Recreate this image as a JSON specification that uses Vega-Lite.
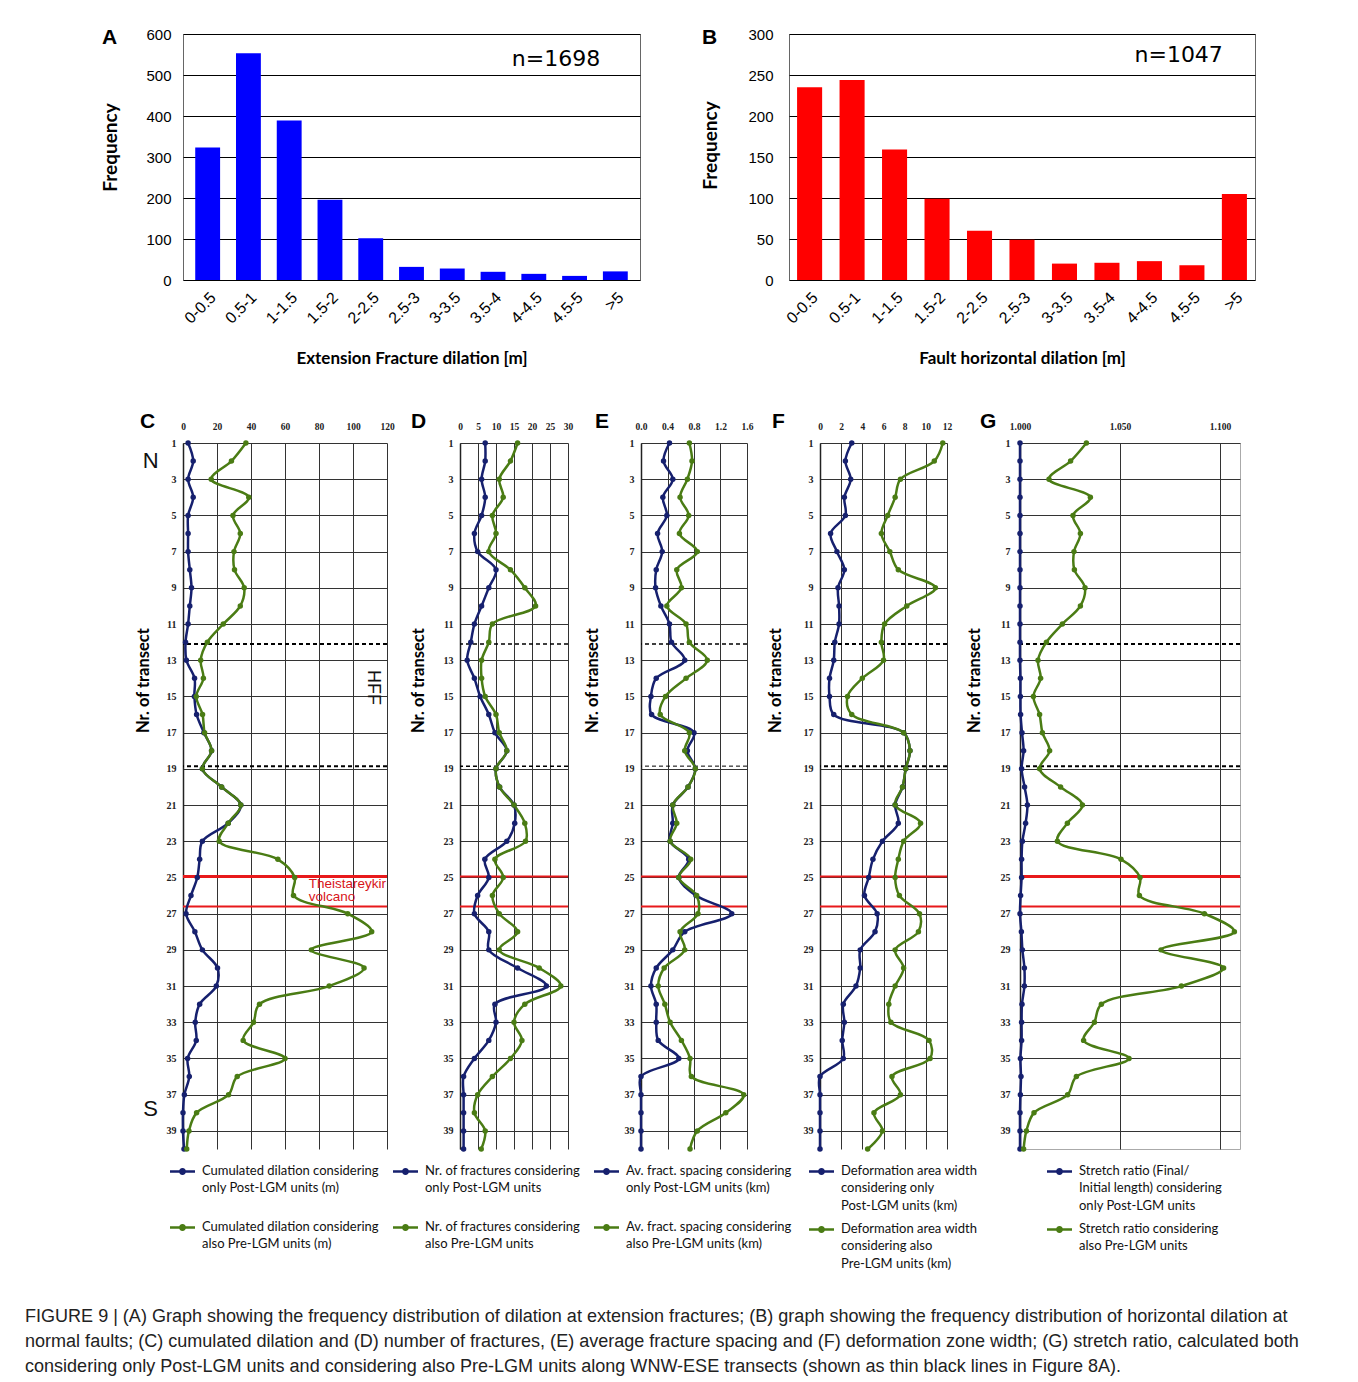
{
"$schema": "https://vega.github.io/schema/vega-lite/v6.json",
"padding": {"left": 25, "top": 26, "right": 5, "bottom": 5},
"background": "#ffffff",
"title": {"text": ["FIGURE 9 | (A) Graph showing the frequency distribution of dilation at extension fractures; (B) graph showing the frequency distribution of horizontal dilation at", "normal faults; (C) cumulated dilation and (D) number of fractures, (E) average fracture spacing and (F) deformation zone width; (G) stretch ratio, calculated both", "considering only Post-LGM units and considering also Pre-LGM units along WNW-ESE transects (shown as thin black lines in Figure 8A)."], "orient": "bottom", "anchor": "start", "frame": "group", "dx": -158, "offset": 37, "fontSize": 18.05, "fontWeight": "normal", "font": "Liberation Sans", "color": "#222", "lineHeight": 25, "baseline": "top"},
"datasets": {
"bars": [
{"chart":"A","bin":"0-0.5","n":323},{"chart":"A","bin":"0.5-1","n":553},{"chart":"A","bin":"1-1.5","n":389},{"chart":"A","bin":"1.5-2","n":196},{"chart":"A","bin":"2-2.5","n":102},{"chart":"A","bin":"2.5-3","n":32},{"chart":"A","bin":"3-3.5","n":28},{"chart":"A","bin":"3.5-4","n":20},{"chart":"A","bin":"4-4.5","n":15},{"chart":"A","bin":"4.5-5","n":10},{"chart":"A","bin":">5","n":21},
{"chart":"B","bin":"0-0.5","n":235},{"chart":"B","bin":"0.5-1","n":244},{"chart":"B","bin":"1-1.5","n":159},{"chart":"B","bin":"1.5-2","n":99},{"chart":"B","bin":"2-2.5","n":60},{"chart":"B","bin":"2.5-3","n":49},{"chart":"B","bin":"3-3.5","n":20},{"chart":"B","bin":"3.5-4","n":21},{"chart":"B","bin":"4-4.5","n":23},{"chart":"B","bin":"4.5-5","n":18},{"chart":"B","bin":">5","n":105}
],
"profiles": [
{"p":"C","t":1,"post":3,"pre":37},{"p":"C","t":2,"post":6,"pre":28.5},{"p":"C","t":3,"post":3,"pre":16.6},{"p":"C","t":4,"post":6,"pre":38.7},{"p":"C","t":5,"post":3,"pre":29.4},{"p":"C","t":6,"post":3,"pre":33.7},{"p":"C","t":7,"post":3,"pre":30},{"p":"C","t":8,"post":4,"pre":30.3},{"p":"C","t":9,"post":5,"pre":36},{"p":"C","t":10,"post":4,"pre":33.7},
{"p":"C","t":11,"post":3,"pre":23.7},{"p":"C","t":12,"post":1.5,"pre":14.3},{"p":"C","t":13,"post":2,"pre":10.4},{"p":"C","t":14,"post":6.8,"pre":12},{"p":"C","t":15,"post":6.7,"pre":7.8},{"p":"C","t":16,"post":8,"pre":11.5},{"p":"C","t":17,"post":12.3,"pre":12.7},{"p":"C","t":18,"post":16.8,"pre":16.8},{"p":"C","t":19,"post":11.4,"pre":11.4},{"p":"C","t":20,"post":22.7,"pre":22.7},
{"p":"C","t":21,"post":34,"pre":34},{"p":"C","t":22,"post":26.6,"pre":26.6},{"p":"C","t":23,"post":11.4,"pre":21.3},{"p":"C","t":24,"post":9.8,"pre":55.8},{"p":"C","t":25,"post":8.4,"pre":65.7},{"p":"C","t":26,"post":4.7,"pre":65},{"p":"C","t":27,"post":1.8,"pre":96.9},{"p":"C","t":28,"post":7,"pre":111},{"p":"C","t":29,"post":11.4,"pre":75.5},{"p":"C","t":30,"post":20.3,"pre":106.5},
{"p":"C","t":31,"post":19.6,"pre":86},{"p":"C","t":32,"post":9.8,"pre":45},{"p":"C","t":33,"post":7.2,"pre":41.5},{"p":"C","t":34,"post":7.8,"pre":35.4},{"p":"C","t":35,"post":2.7,"pre":60},{"p":"C","t":36,"post":3.7,"pre":31.9},{"p":"C","t":37,"post":0.8,"pre":26.8},{"p":"C","t":38,"post":0,"pre":8},{"p":"C","t":39,"post":0,"pre":3.5},{"p":"C","t":40,"post":0.6,"pre":2.2},
{"p":"D","t":1,"post":7,"pre":16},{"p":"D","t":2,"post":7,"pre":14},{"p":"D","t":3,"post":6,"pre":10.9},{"p":"D","t":4,"post":7,"pre":12},{"p":"D","t":5,"post":6,"pre":9},{"p":"D","t":6,"post":4,"pre":10},{"p":"D","t":7,"post":4.9,"pre":8},{"p":"D","t":8,"post":10,"pre":14},{"p":"D","t":9,"post":8,"pre":18},{"p":"D","t":10,"post":6,"pre":21},
{"p":"D","t":11,"post":4,"pre":9},{"p":"D","t":12,"post":3,"pre":8},{"p":"D","t":13,"post":2,"pre":6},{"p":"D","t":14,"post":4,"pre":6},{"p":"D","t":15,"post":5.6,"pre":7},{"p":"D","t":16,"post":8,"pre":10},{"p":"D","t":17,"post":9.7,"pre":10.9},{"p":"D","t":18,"post":13,"pre":13},{"p":"D","t":19,"post":10,"pre":10},{"p":"D","t":20,"post":11,"pre":11},
{"p":"D","t":21,"post":15,"pre":15},{"p":"D","t":22,"post":15.2,"pre":18},{"p":"D","t":23,"post":13,"pre":18.2},{"p":"D","t":24,"post":6.9,"pre":9.7},{"p":"D","t":25,"post":8,"pre":12},{"p":"D","t":26,"post":4.9,"pre":9},{"p":"D","t":27,"post":4,"pre":10.9},{"p":"D","t":28,"post":8,"pre":16},{"p":"D","t":29,"post":8,"pre":10.9},{"p":"D","t":30,"post":16,"pre":22},
{"p":"D","t":31,"post":24,"pre":28},{"p":"D","t":32,"post":9.7,"pre":18},{"p":"D","t":33,"post":10,"pre":15},{"p":"D","t":34,"post":8,"pre":17.2},{"p":"D","t":35,"post":4,"pre":14},{"p":"D","t":36,"post":1,"pre":9},{"p":"D","t":37,"post":1,"pre":4.9},{"p":"D","t":38,"post":1,"pre":4},{"p":"D","t":39,"post":1,"pre":7},{"p":"D","t":40,"post":1,"pre":5.9},
{"p":"E","t":1,"post":0.43,"pre":0.73},{"p":"E","t":2,"post":0.34,"pre":0.77},{"p":"E","t":3,"post":0.48,"pre":0.7},{"p":"E","t":4,"post":0.33,"pre":0.59},{"p":"E","t":5,"post":0.39,"pre":0.72},{"p":"E","t":6,"post":0.25,"pre":0.58},{"p":"E","t":7,"post":0.32,"pre":0.85},{"p":"E","t":8,"post":0.23,"pre":0.54},{"p":"E","t":9,"post":0.22,"pre":0.61},{"p":"E","t":10,"post":0.3,"pre":0.39},
{"p":"E","t":11,"post":0.43,"pre":0.68},{"p":"E","t":12,"post":0.46,"pre":0.73},{"p":"E","t":13,"post":0.66,"pre":1.0},{"p":"E","t":14,"post":0.23,"pre":0.68},{"p":"E","t":15,"post":0.15,"pre":0.37},{"p":"E","t":16,"post":0.16,"pre":0.29},{"p":"E","t":17,"post":0.8,"pre":0.73},{"p":"E","t":18,"post":0.7,"pre":0.66},{"p":"E","t":19,"post":0.82,"pre":0.82},{"p":"E","t":20,"post":0.71,"pre":0.71},
{"p":"E","t":21,"post":0.48,"pre":0.48},{"p":"E","t":22,"post":0.48,"pre":0.54},{"p":"E","t":23,"post":0.44,"pre":0.44},{"p":"E","t":24,"post":0.72,"pre":0.75},{"p":"E","t":25,"post":0.57,"pre":0.57},{"p":"E","t":26,"post":0.83,"pre":0.84},{"p":"E","t":27,"post":1.37,"pre":0.86},{"p":"E","t":28,"post":0.66,"pre":0.59},{"p":"E","t":29,"post":0.48,"pre":0.66},{"p":"E","t":30,"post":0.23,"pre":0.35},
{"p":"E","t":31,"post":0.15,"pre":0.26},{"p":"E","t":32,"post":0.23,"pre":0.36},{"p":"E","t":33,"post":0.23,"pre":0.44},{"p":"E","t":34,"post":0.26,"pre":0.61},{"p":"E","t":35,"post":0.57,"pre":0.74},{"p":"E","t":36,"post":0,"pre":0.76},{"p":"E","t":37,"post":0,"pre":1.55},{"p":"E","t":38,"post":0,"pre":1.28},{"p":"E","t":39,"post":0,"pre":0.85},{"p":"E","t":40,"post":0,"pre":0.74},
{"p":"F","t":1,"post":3.0,"pre":11.6},{"p":"F","t":2,"post":2.4,"pre":10.8},{"p":"F","t":3,"post":2.9,"pre":7.6},{"p":"F","t":4,"post":2.3,"pre":7.1},{"p":"F","t":5,"post":2.4,"pre":6.4},{"p":"F","t":6,"post":1.0,"pre":5.8},{"p":"F","t":7,"post":1.6,"pre":6.6},{"p":"F","t":8,"post":2.3,"pre":7.4},{"p":"F","t":9,"post":1.7,"pre":10.9},{"p":"F","t":10,"post":1.8,"pre":8.2},
{"p":"F","t":11,"post":1.8,"pre":6.1},{"p":"F","t":12,"post":1.4,"pre":5.8},{"p":"F","t":13,"post":1.3,"pre":6.0},{"p":"F","t":14,"post":0.9,"pre":4.0},{"p":"F","t":15,"post":0.9,"pre":2.6},{"p":"F","t":16,"post":1.3,"pre":3.0},{"p":"F","t":17,"post":7.9,"pre":7.9},{"p":"F","t":18,"post":8.5,"pre":8.5},{"p":"F","t":19,"post":8.1,"pre":8.1},{"p":"F","t":20,"post":7.8,"pre":7.8},
{"p":"F","t":21,"post":7.1,"pre":7.1},{"p":"F","t":22,"post":7.4,"pre":9.5},{"p":"F","t":23,"post":5.9,"pre":7.9},{"p":"F","t":24,"post":5.0,"pre":7.4},{"p":"F","t":25,"post":4.6,"pre":7.1},{"p":"F","t":26,"post":4.2,"pre":7.5},{"p":"F","t":27,"post":5.4,"pre":9.4},{"p":"F","t":28,"post":5.2,"pre":9.3},{"p":"F","t":29,"post":3.8,"pre":7.1},{"p":"F","t":30,"post":3.8,"pre":7.9},
{"p":"F","t":31,"post":3.4,"pre":7.1},{"p":"F","t":32,"post":2.2,"pre":6.5},{"p":"F","t":33,"post":2.3,"pre":6.7},{"p":"F","t":34,"post":2.1,"pre":10.3},{"p":"F","t":35,"post":2.2,"pre":10.4},{"p":"F","t":36,"post":0,"pre":6.8},{"p":"F","t":37,"post":0,"pre":7.6},{"p":"F","t":38,"post":0,"pre":5.1},{"p":"F","t":39,"post":0,"pre":5.9},{"p":"F","t":40,"post":0,"pre":4.5},
{"p":"G","t":1,"post":1.0,"pre":1.0332},{"p":"G","t":2,"post":1.0,"pre":1.0253},{"p":"G","t":3,"post":1.0,"pre":1.0145},{"p":"G","t":4,"post":1.0,"pre":1.0352},{"p":"G","t":5,"post":1.0,"pre":1.0265},{"p":"G","t":6,"post":1.0,"pre":1.0302},{"p":"G","t":7,"post":1.0,"pre":1.027},{"p":"G","t":8,"post":1.0,"pre":1.0272},{"p":"G","t":9,"post":1.0,"pre":1.0325},{"p":"G","t":10,"post":1.0,"pre":1.0302},
{"p":"G","t":11,"post":1.0,"pre":1.0212},{"p":"G","t":12,"post":1.0,"pre":1.0132},{"p":"G","t":13,"post":1.0,"pre":1.009},{"p":"G","t":14,"post":1.0002,"pre":1.0103},{"p":"G","t":15,"post":1.0002,"pre":1.0067},{"p":"G","t":16,"post":1.0003,"pre":1.0098},{"p":"G","t":17,"post":1.001,"pre":1.0112},{"p":"G","t":18,"post":1.0018,"pre":1.0148},{"p":"G","t":19,"post":1.0008,"pre":1.0098},{"p":"G","t":20,"post":1.0023,"pre":1.0203},
{"p":"G","t":21,"post":1.0037,"pre":1.0312},{"p":"G","t":22,"post":1.0028,"pre":1.0237},{"p":"G","t":23,"post":1.0012,"pre":1.0187},{"p":"G","t":24,"post":1.0008,"pre":1.0505},{"p":"G","t":25,"post":1.0008,"pre":1.06},{"p":"G","t":26,"post":1.0003,"pre":1.0597},{"p":"G","t":27,"post":1.0,"pre":1.0922},{"p":"G","t":28,"post":1.0007,"pre":1.1072},{"p":"G","t":29,"post":1.0012,"pre":1.0705},{"p":"G","t":30,"post":1.0022,"pre":1.1018},
{"p":"G","t":31,"post":1.0022,"pre":1.0807},{"p":"G","t":32,"post":1.001,"pre":1.0407},{"p":"G","t":33,"post":1.0008,"pre":1.0372},{"p":"G","t":34,"post":1.0008,"pre":1.0318},{"p":"G","t":35,"post":1.0002,"pre":1.0545},{"p":"G","t":36,"post":1.0005,"pre":1.0282},{"p":"G","t":37,"post":1.0002,"pre":1.0238},{"p":"G","t":38,"post":1.0,"pre":1.007},{"p":"G","t":39,"post":1.0,"pre":1.0032},{"p":"G","t":40,"post":1.0,"pre":1.0018}
]
},
"vconcat": [
{"hconcat": [
 {"width": 457, "height": 246,
  "view": {"stroke": "#666", "strokeWidth": 1},
  "title": {"text": "A", "anchor": "start", "frame": "group", "dx": -81, "dy": 25, "fontSize": 21, "fontWeight": "bold", "font": "Liberation Sans", "color": "#000"},
  "layer": [
   {"data": {"name": "bars"}, "transform": [{"filter": "datum.chart == 'A'"}],
    "mark": {"type": "bar", "color": "#0000ff"},
    "encoding": {
     "x": {"field": "bin", "type": "nominal", "scale": {"domain": ["0-0.5","0.5-1","1-1.5","1.5-2","2-2.5","2.5-3","3-3.5","3.5-4","4-4.5","4.5-5",">5"], "paddingInner": 0.39, "paddingOuter": 0.3}, "axis": {"title": "Extension Fracture dilation [m]", "labelAngle": -45, "labelFont": "Liberation Sans", "labelFontSize": 16, "labelColor": "#000", "labelPadding": 9, "ticks": false, "domain": false, "titleFont": "Lato", "titleFontSize": 17, "titleFontWeight": "bold", "titlePadding": 24, "titleColor": "#000"}},
     "y": {"field": "n", "type": "quantitative", "scale": {"domain": [0, 600], "nice": false}, "axis": {"values": [0,100,200,300,400,500,600], "title": "Frequency", "titleX": -73, "titleY": 113, "titleAngle": -90, "titleAlign": "center", "titleBaseline": "middle", "titleFont": "Lato", "titleFontSize": 19, "titleFontWeight": "bold", "titleColor": "#000", "labelFont": "Liberation Sans", "labelFontSize": 15, "labelColor": "#000", "labelPadding": 12, "ticks": false, "domain": false, "grid": true, "gridColor": "#000", "gridWidth": 1}}
    }},
   {"data": {"values": [{}]}, "mark": {"type": "text", "text": "n=1698", "font": "DejaVu Sans", "fontSize": 22, "align": "right", "baseline": "middle", "color": "#000", "dx": -4},
    "encoding": {"x": {"datum": ">5", "type": "nominal", "bandPosition": 0.05}, "y": {"datum": 540, "type": "quantitative"}}}
  ]},
 {"width": 466, "height": 246,
  "view": {"stroke": "#666", "strokeWidth": 1},
  "title": {"text": "B", "anchor": "start", "frame": "group", "dx": -87, "dy": 25, "fontSize": 21, "fontWeight": "bold", "font": "Liberation Sans", "color": "#000"},
  "layer": [
   {"data": {"name": "bars"}, "transform": [{"filter": "datum.chart == 'B'"}],
    "mark": {"type": "bar", "color": "#ff0000"},
    "encoding": {
     "x": {"field": "bin", "type": "nominal", "scale": {"domain": ["0-0.5","0.5-1","1-1.5","1.5-2","2-2.5","2.5-3","3-3.5","3.5-4","4-4.5","4.5-5",">5"], "paddingInner": 0.41, "paddingOuter": 0.19}, "axis": {"title": "Fault horizontal dilation [m]", "labelAngle": -45, "labelFont": "Liberation Sans", "labelFontSize": 16, "labelColor": "#000", "labelPadding": 9, "ticks": false, "domain": false, "titleFont": "Lato", "titleFontSize": 17, "titleFontWeight": "bold", "titlePadding": 24, "titleColor": "#000"}},
     "y": {"field": "n", "type": "quantitative", "scale": {"domain": [0, 300], "nice": false}, "axis": {"values": [0,50,100,150,200,250,300], "title": "Frequency", "titleX": -79, "titleY": 111, "titleAngle": -90, "titleAlign": "center", "titleBaseline": "middle", "titleFont": "Lato", "titleFontSize": 19, "titleFontWeight": "bold", "titleColor": "#000", "labelFont": "Liberation Sans", "labelFontSize": 15, "labelColor": "#000", "labelPadding": 16, "ticks": false, "domain": false, "grid": true, "gridColor": "#000", "gridWidth": 1}}
    }},
   {"data": {"values": [{}]}, "mark": {"type": "text", "text": "n=1047", "font": "DejaVu Sans", "fontSize": 22, "align": "right", "baseline": "middle", "color": "#000", "dx": -4},
    "encoding": {"x": {"datum": ">5", "type": "nominal", "bandPosition": 0.2}, "y": {"datum": 275, "type": "quantitative"}}}
  ]}
 ], "spacing": 149, "bounds": "flush"},
{"hconcat": [
 {"width": 204, "height": 706,
  "title": {"text": "C", "anchor": "start", "frame": "group", "dx": -43, "dy": 15, "fontSize": 21, "fontWeight": "bold", "font": "Liberation Sans", "color": "#000"},
  "layer": [
   {"data": {"values": [{}]}, "mark": {"type": "rule", "color": "#000", "strokeWidth": 2, "strokeDash": [4, 3]}, "encoding": {"y": {"datum": 12.1, "type": "quantitative"}}},
   {"data": {"values": [{}]}, "mark": {"type": "rule", "color": "#000", "strokeWidth": 2, "strokeDash": [4, 3]}, "encoding": {"y": {"datum": 18.85, "type": "quantitative"}}},
   {"data": {"values": [{}]}, "mark": {"type": "rule", "color": "#e8191b", "strokeWidth": 3}, "encoding": {"y": {"datum": 24.95, "type": "quantitative"}}},
   {"data": {"values": [{}]}, "mark": {"type": "rule", "color": "#e8191b", "strokeWidth": 2}, "encoding": {"y": {"datum": 26.6, "type": "quantitative"}}},
   {"data": {"name": "profiles"}, "transform": [{"filter": "datum.p == 'C'"}, {"fold": ["post", "pre"], "as": ["s", "v"]}],
    "encoding": {
     "y": {"field": "t", "type": "quantitative", "scale": {"domain": [1, 40], "reverse": true, "nice": false, "zero": false}, "axis": {"values": [1,3,5,7,9,11,13,15,17,19,21,23,25,27,29,31,33,35,37,39], "tickCount": 60, "format": "d", "labelOverlap": false, "title": "Nr. of transect", "titleX": -40, "titleY": 237, "titleAngle": -90, "titleAlign": "center", "titleBaseline": "middle", "titleFont": "Lato", "titleFontSize": 16.5, "titleFontWeight": "bold", "titleColor": "#000", "labelFont": "Liberation Serif", "labelFontSize": 10, "labelFontWeight": "bold", "labelColor": "#222", "labelPadding": 7, "ticks": false, "grid": true, "gridColor": "#333", "gridWidth": 1, "domain": true, "domainColor": "#222", "domainWidth": 1.5}},
     "x": {"field": "v", "type": "quantitative", "scale": {"domain": [0, 120], "nice": false, "zero": false}, "axis": {"orient": "top", "values": [0,20,40,60,80,100,120], "tickCount": 60, "format": "d", "title": null, "labelFont": "Liberation Serif", "labelFontSize": 9.5, "labelFontWeight": "bold", "labelColor": "#222", "ticks": false, "labelPadding": 12, "domain": false, "grid": true, "gridColor": "#333", "gridWidth": 1, "labelFlush": false, "labelOverlap": false}},
     "order": {"field": "t", "type": "quantitative"},
     "color": {"field": "s", "type": "nominal", "scale": {"domain": ["post", "pre"], "range": ["#16206e", "#4a7c14"]}, "legend": {"orient": "none", "legendX": -13, "legendY": 716, "title": null, "direction": "vertical", "symbolType": "M-1,-0.1H-0.25V0.1H-1Z M0.25,-0.1H1V0.1H0.25Z M0.28,0A0.28,0.28,0,1,1,-0.28,0A0.28,0.28,0,1,1,0.28,0Z", "symbolSize": 625, "symbolStrokeWidth": 0, "symbolOpacity": 1, "labelFont": "Lato", "labelFontSize": 13, "labelColor": "#111", "labelBaseline": "top", "labelLimit": 400, "labelOffset": 7, "rowPadding": 20, "padding": 0, "labelExpr": "datum.value == 'post' ? ['Cumulated dilation considering', 'only Post-LGM units (m)'] : ['Cumulated dilation considering', 'also Pre-LGM units (m)']", "encode": {"labels": {"update": {"lineHeight": {"value": 17.5}, "dy": {"value": -7}}}}}}
    },
    "layer": [
     {"mark": {"type": "line", "interpolate": "catmull-rom", "strokeWidth": 2.5}},
     {"mark": {"type": "circle", "size": 30, "opacity": 1}}
    ]},
   {"data": {"values": [{}]}, "mark": {"type": "text", "text": "N", "fontSize": 22, "font": "Liberation Sans", "color": "#111"}, "encoding": {"x": {"datum": -19, "type": "quantitative", "axis": {"orient": "top"}}, "y": {"datum": 2.0, "type": "quantitative"}}},
   {"data": {"values": [{}]}, "mark": {"type": "text", "text": "S", "fontSize": 22, "font": "Liberation Sans", "color": "#111"}, "encoding": {"x": {"datum": -19, "type": "quantitative", "axis": {"orient": "top"}}, "y": {"datum": 37.8, "type": "quantitative"}}},
   {"data": {"values": [{}]}, "mark": {"type": "text", "text": "HFF", "fontSize": 18, "font": "Liberation Sans", "color": "#111", "angle": 90}, "encoding": {"x": {"datum": 112, "type": "quantitative", "axis": {"orient": "top"}}, "y": {"datum": 14.5, "type": "quantitative"}}},
   {"data": {"values": [{}]}, "mark": {"type": "text", "text": ["Theistareykir", "volcano"], "lineHeight": 13, "fontSize": 13.5, "font": "Liberation Sans", "color": "#d8141a", "align": "left", "baseline": "top", "clip": true}, "encoding": {"x": {"datum": 74, "type": "quantitative", "axis": {"orient": "top"}}, "y": {"datum": 24.98, "type": "quantitative"}}}
  ]},
 {"width": 108, "height": 706,
  "title": {"text": "D", "anchor": "start", "frame": "group", "dx": -49, "dy": 15, "fontSize": 21, "fontWeight": "bold", "font": "Liberation Sans", "color": "#000"},
  "layer": [
   {"data": {"values": [{}]}, "mark": {"type": "rule", "color": "#000", "strokeWidth": 1.5, "strokeDash": [4, 3]}, "encoding": {"y": {"datum": 12.1, "type": "quantitative"}}},
   {"data": {"values": [{}]}, "mark": {"type": "rule", "color": "#000", "strokeWidth": 1.5, "strokeDash": [4, 3]}, "encoding": {"y": {"datum": 18.85, "type": "quantitative"}}},
   {"data": {"values": [{}]}, "mark": {"type": "rule", "color": "#e8191b", "strokeWidth": 2}, "encoding": {"y": {"datum": 24.95, "type": "quantitative"}}},
   {"data": {"values": [{}]}, "mark": {"type": "rule", "color": "#e8191b", "strokeWidth": 2}, "encoding": {"y": {"datum": 26.6, "type": "quantitative"}}},
   {"data": {"name": "profiles"}, "transform": [{"filter": "datum.p == 'D'"}, {"fold": ["post", "pre"], "as": ["s", "v"]}],
    "encoding": {
     "y": {"field": "t", "type": "quantitative", "scale": {"domain": [1, 40], "reverse": true, "nice": false, "zero": false}, "axis": {"values": [1,3,5,7,9,11,13,15,17,19,21,23,25,27,29,31,33,35,37,39], "tickCount": 60, "format": "d", "labelOverlap": false, "title": "Nr. of transect", "titleX": -42, "titleY": 237, "titleAngle": -90, "titleAlign": "center", "titleBaseline": "middle", "titleFont": "Lato", "titleFontSize": 16.5, "titleFontWeight": "bold", "titleColor": "#000", "labelFont": "Liberation Serif", "labelFontSize": 10, "labelFontWeight": "bold", "labelColor": "#222", "labelPadding": 7, "ticks": false, "grid": true, "gridColor": "#333", "gridWidth": 1, "domain": true, "domainColor": "#222", "domainWidth": 1.5}},
     "x": {"field": "v", "type": "quantitative", "scale": {"domain": [0, 30], "nice": false, "zero": false}, "axis": {"orient": "top", "values": [0,5,10,15,20,25,30], "tickCount": 60, "format": "d", "title": null, "labelFont": "Liberation Serif", "labelFontSize": 9.5, "labelFontWeight": "bold", "labelColor": "#222", "ticks": false, "labelPadding": 12, "domain": false, "grid": true, "gridColor": "#333", "gridWidth": 1, "labelFlush": false, "labelOverlap": false}},
     "order": {"field": "t", "type": "quantitative"},
     "color": {"field": "s", "type": "nominal", "scale": {"domain": ["post", "pre"], "range": ["#16206e", "#4a7c14"]}, "legend": {"orient": "none", "legendX": -67, "legendY": 716, "title": null, "direction": "vertical", "symbolType": "M-1,-0.1H-0.25V0.1H-1Z M0.25,-0.1H1V0.1H0.25Z M0.28,0A0.28,0.28,0,1,1,-0.28,0A0.28,0.28,0,1,1,0.28,0Z", "symbolSize": 625, "symbolStrokeWidth": 0, "symbolOpacity": 1, "labelFont": "Lato", "labelFontSize": 13, "labelColor": "#111", "labelBaseline": "top", "labelLimit": 400, "labelOffset": 7, "rowPadding": 20, "padding": 0, "labelExpr": "datum.value == 'post' ? ['Nr. of fractures considering', 'only Post-LGM units'] : ['Nr. of fractures considering', 'also Pre-LGM units']", "encode": {"labels": {"update": {"lineHeight": {"value": 17.5}, "dy": {"value": -7}}}}}}
    },
    "layer": [
     {"mark": {"type": "line", "interpolate": "catmull-rom", "strokeWidth": 2.5}},
     {"mark": {"type": "circle", "size": 30, "opacity": 1}}
    ]}
  ]},
 {"width": 106, "height": 706,
  "title": {"text": "E", "anchor": "start", "frame": "group", "dx": -46, "dy": 15, "fontSize": 21, "fontWeight": "bold", "font": "Liberation Sans", "color": "#000"},
  "layer": [
   {"data": {"values": [{}]}, "mark": {"type": "rule", "color": "#000", "strokeWidth": 1.5, "strokeDash": [4, 3]}, "encoding": {"y": {"datum": 12.1, "type": "quantitative"}}},
   {"data": {"values": [{}]}, "mark": {"type": "rule", "color": "#000", "strokeWidth": 1, "strokeDash": [4, 3]}, "encoding": {"y": {"datum": 18.85, "type": "quantitative"}}},
   {"data": {"values": [{}]}, "mark": {"type": "rule", "color": "#e8191b", "strokeWidth": 2}, "encoding": {"y": {"datum": 24.95, "type": "quantitative"}}},
   {"data": {"values": [{}]}, "mark": {"type": "rule", "color": "#e8191b", "strokeWidth": 2}, "encoding": {"y": {"datum": 26.6, "type": "quantitative"}}},
   {"data": {"name": "profiles"}, "transform": [{"filter": "datum.p == 'E'"}, {"fold": ["post", "pre"], "as": ["s", "v"]}],
    "encoding": {
     "y": {"field": "t", "type": "quantitative", "scale": {"domain": [1, 40], "reverse": true, "nice": false, "zero": false}, "axis": {"values": [1,3,5,7,9,11,13,15,17,19,21,23,25,27,29,31,33,35,37,39], "tickCount": 60, "format": "d", "labelOverlap": false, "title": "Nr. of transect", "titleX": -49, "titleY": 237, "titleAngle": -90, "titleAlign": "center", "titleBaseline": "middle", "titleFont": "Lato", "titleFontSize": 16.5, "titleFontWeight": "bold", "titleColor": "#000", "labelFont": "Liberation Serif", "labelFontSize": 10, "labelFontWeight": "bold", "labelColor": "#222", "labelPadding": 7, "ticks": false, "grid": true, "gridColor": "#333", "gridWidth": 1, "domain": true, "domainColor": "#222", "domainWidth": 1.5}},
     "x": {"field": "v", "type": "quantitative", "scale": {"domain": [0, 1.6], "nice": false, "zero": false}, "axis": {"orient": "top", "values": [0,0.4,0.8,1.2,1.6], "tickCount": 60, "format": ".1f", "title": null, "labelFont": "Liberation Serif", "labelFontSize": 9.5, "labelFontWeight": "bold", "labelColor": "#222", "ticks": false, "labelPadding": 12, "domain": false, "grid": true, "gridColor": "#333", "gridWidth": 1, "labelFlush": false, "labelOverlap": false}},
     "order": {"field": "t", "type": "quantitative"},
     "color": {"field": "s", "type": "nominal", "scale": {"domain": ["post", "pre"], "range": ["#16206e", "#4a7c14"]}, "legend": {"orient": "none", "legendX": -47, "legendY": 716, "title": null, "direction": "vertical", "symbolType": "M-1,-0.1H-0.25V0.1H-1Z M0.25,-0.1H1V0.1H0.25Z M0.28,0A0.28,0.28,0,1,1,-0.28,0A0.28,0.28,0,1,1,0.28,0Z", "symbolSize": 625, "symbolStrokeWidth": 0, "symbolOpacity": 1, "labelFont": "Lato", "labelFontSize": 13, "labelColor": "#111", "labelBaseline": "top", "labelLimit": 400, "labelOffset": 7, "rowPadding": 20, "padding": 0, "labelExpr": "datum.value == 'post' ? ['Av. fract. spacing considering', 'only Post-LGM units (km)'] : ['Av. fract. spacing considering', 'also Pre-LGM units (km)']", "encode": {"labels": {"update": {"lineHeight": {"value": 17.5}, "dy": {"value": -7}}}}}}
    },
    "layer": [
     {"mark": {"type": "line", "interpolate": "catmull-rom", "strokeWidth": 2.5}},
     {"mark": {"type": "circle", "size": 30, "opacity": 1}}
    ]}
  ]},
 {"width": 127, "height": 706,
  "title": {"text": "F", "anchor": "start", "frame": "group", "dx": -48, "dy": 15, "fontSize": 21, "fontWeight": "bold", "font": "Liberation Sans", "color": "#000"},
  "layer": [
   {"data": {"values": [{}]}, "mark": {"type": "rule", "color": "#000", "strokeWidth": 2, "strokeDash": [4, 3]}, "encoding": {"y": {"datum": 12.1, "type": "quantitative"}}},
   {"data": {"values": [{}]}, "mark": {"type": "rule", "color": "#000", "strokeWidth": 2, "strokeDash": [4, 3]}, "encoding": {"y": {"datum": 18.85, "type": "quantitative"}}},
   {"data": {"values": [{}]}, "mark": {"type": "rule", "color": "#e8191b", "strokeWidth": 2}, "encoding": {"y": {"datum": 24.95, "type": "quantitative"}}},
   {"data": {"values": [{}]}, "mark": {"type": "rule", "color": "#e8191b", "strokeWidth": 2}, "encoding": {"y": {"datum": 26.6, "type": "quantitative"}}},
   {"data": {"name": "profiles"}, "transform": [{"filter": "datum.p == 'F'"}, {"fold": ["post", "pre"], "as": ["s", "v"]}],
    "encoding": {
     "y": {"field": "t", "type": "quantitative", "scale": {"domain": [1, 40], "reverse": true, "nice": false, "zero": false}, "axis": {"values": [1,3,5,7,9,11,13,15,17,19,21,23,25,27,29,31,33,35,37,39], "tickCount": 60, "format": "d", "labelOverlap": false, "title": "Nr. of transect", "titleX": -45, "titleY": 237, "titleAngle": -90, "titleAlign": "center", "titleBaseline": "middle", "titleFont": "Lato", "titleFontSize": 16.5, "titleFontWeight": "bold", "titleColor": "#000", "labelFont": "Liberation Serif", "labelFontSize": 10, "labelFontWeight": "bold", "labelColor": "#222", "labelPadding": 7, "ticks": false, "grid": true, "gridColor": "#333", "gridWidth": 1, "domain": true, "domainColor": "#222", "domainWidth": 1.5}},
     "x": {"field": "v", "type": "quantitative", "scale": {"domain": [0, 12], "nice": false, "zero": false}, "axis": {"orient": "top", "values": [0,2,4,6,8,10,12], "tickCount": 60, "format": "d", "title": null, "labelFont": "Liberation Serif", "labelFontSize": 9.5, "labelFontWeight": "bold", "labelColor": "#222", "ticks": false, "labelPadding": 12, "domain": false, "grid": true, "gridColor": "#333", "gridWidth": 1, "labelFlush": false, "labelOverlap": false}},
     "order": {"field": "t", "type": "quantitative"},
     "color": {"field": "s", "type": "nominal", "scale": {"domain": ["post", "pre"], "range": ["#16206e", "#4a7c14"]}, "legend": {"orient": "none", "legendX": -11, "legendY": 716, "title": null, "direction": "vertical", "symbolType": "M-1,-0.1H-0.25V0.1H-1Z M0.25,-0.1H1V0.1H0.25Z M0.28,0A0.28,0.28,0,1,1,-0.28,0A0.28,0.28,0,1,1,0.28,0Z", "symbolSize": 625, "symbolStrokeWidth": 0, "symbolOpacity": 1, "labelFont": "Lato", "labelFontSize": 13, "labelColor": "#111", "labelBaseline": "top", "labelLimit": 400, "labelOffset": 7, "rowPadding": 4, "padding": 0, "labelExpr": "datum.value == 'post' ? ['Deformation area width', 'considering only', 'Post-LGM units (km)'] : ['Deformation area width', 'considering also', 'Pre-LGM units (km)']", "encode": {"labels": {"update": {"lineHeight": {"value": 17.5}, "dy": {"value": -7}}}}}}
    },
    "layer": [
     {"mark": {"type": "line", "interpolate": "catmull-rom", "strokeWidth": 2.5}},
     {"mark": {"type": "circle", "size": 30, "opacity": 1}}
    ]}
  ]},
 {"width": 220, "height": 706,
  "view": {"stroke": "#aaa", "strokeWidth": 1},
  "title": {"text": "G", "anchor": "start", "frame": "group", "dx": -40, "dy": 15, "fontSize": 21, "fontWeight": "bold", "font": "Liberation Sans", "color": "#000"},
  "layer": [
   {"data": {"values": [{}]}, "mark": {"type": "rule", "color": "#000", "strokeWidth": 2, "strokeDash": [4, 3]}, "encoding": {"y": {"datum": 12.1, "type": "quantitative"}}},
   {"data": {"values": [{}]}, "mark": {"type": "rule", "color": "#000", "strokeWidth": 2, "strokeDash": [4, 3]}, "encoding": {"y": {"datum": 18.85, "type": "quantitative"}}},
   {"data": {"values": [{}]}, "mark": {"type": "rule", "color": "#e8191b", "strokeWidth": 3}, "encoding": {"y": {"datum": 24.95, "type": "quantitative"}}},
   {"data": {"values": [{}]}, "mark": {"type": "rule", "color": "#e8191b", "strokeWidth": 2}, "encoding": {"y": {"datum": 26.6, "type": "quantitative"}}},
   {"data": {"name": "profiles"}, "transform": [{"filter": "datum.p == 'G'"}, {"fold": ["post", "pre"], "as": ["s", "v"]}],
    "encoding": {
     "y": {"field": "t", "type": "quantitative", "scale": {"domain": [1, 40], "reverse": true, "nice": false, "zero": false}, "axis": {"values": [1,3,5,7,9,11,13,15,17,19,21,23,25,27,29,31,33,35,37,39], "tickCount": 60, "format": "d", "labelOverlap": false, "title": "Nr. of transect", "titleX": -46, "titleY": 237, "titleAngle": -90, "titleAlign": "center", "titleBaseline": "middle", "titleFont": "Lato", "titleFontSize": 16.5, "titleFontWeight": "bold", "titleColor": "#000", "labelFont": "Liberation Serif", "labelFontSize": 10, "labelFontWeight": "bold", "labelColor": "#222", "labelPadding": 10, "ticks": false, "grid": true, "gridColor": "#333", "gridWidth": 1, "domain": true, "domainColor": "#222", "domainWidth": 1.5}},
     "x": {"field": "v", "type": "quantitative", "scale": {"domain": [1, 1.11], "nice": false, "zero": false}, "axis": {"orient": "top", "values": [1.0, 1.05, 1.1], "tickCount": 60, "format": ".3f", "title": null, "labelFont": "Liberation Serif", "labelFontSize": 9.5, "labelFontWeight": "bold", "labelColor": "#222", "ticks": false, "labelPadding": 12, "domain": false, "grid": true, "gridColor": "#333", "gridWidth": 1, "labelFlush": false, "labelOverlap": false}},
     "order": {"field": "t", "type": "quantitative"},
     "color": {"field": "s", "type": "nominal", "scale": {"domain": ["post", "pre"], "range": ["#16206e", "#4a7c14"]}, "legend": {"orient": "none", "legendX": 27, "legendY": 716, "title": null, "direction": "vertical", "symbolType": "M-1,-0.1H-0.25V0.1H-1Z M0.25,-0.1H1V0.1H0.25Z M0.28,0A0.28,0.28,0,1,1,-0.28,0A0.28,0.28,0,1,1,0.28,0Z", "symbolSize": 625, "symbolStrokeWidth": 0, "symbolOpacity": 1, "labelFont": "Lato", "labelFontSize": 13, "labelColor": "#111", "labelBaseline": "top", "labelLimit": 400, "labelOffset": 7, "rowPadding": 4, "padding": 0, "labelExpr": "datum.value == 'post' ? ['Stretch ratio (Final/', 'Initial length) considering', 'only Post-LGM units'] : ['Stretch ratio considering', 'also Pre-LGM units']", "encode": {"labels": {"update": {"lineHeight": {"value": 17.5}, "dy": {"value": -7}}}}}}
    },
    "layer": [
     {"mark": {"type": "line", "interpolate": "catmull-rom", "strokeWidth": 2.5}},
     {"mark": {"type": "circle", "size": 30, "opacity": 1}}
    ]}
  ]}
 ], "spacing": 73, "bounds": "flush", "resolve": {"scale": {"x": "independent", "y": "independent", "color": "independent"}, "legend": {"color": "independent"}, "axis": {"x": "independent", "y": "independent"}}}
],
"spacing": 409,
"bounds": "flush",
"config": {
 "view": {"stroke": null},
 "font": "Liberation Sans",
 "axis": {"labelColor": "#111", "titleColor": "#000"},
 "legend": {"padding": 0}
}
}
